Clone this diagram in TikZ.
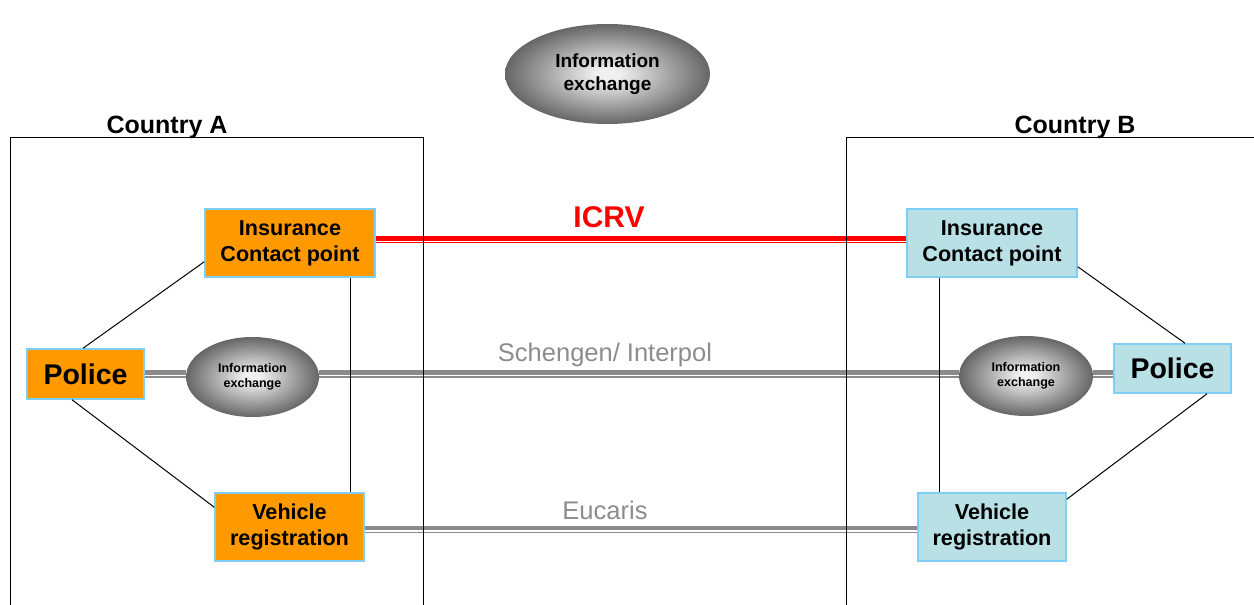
\documentclass[tikz,border=0pt]{standalone}
\usepackage{fontspec}
\setmainfont{Liberation Sans}
\usetikzlibrary{shapes.geometric}
\definecolor{boxorange}{HTML}{FF9900}
\definecolor{boxcyan}{HTML}{B9E0E5}
\definecolor{boxedge}{HTML}{7FCFF5}
\definecolor{linegray}{HTML}{8A8A8A}
\definecolor{labelgray}{HTML}{8C8C8C}
\definecolor{icrvred}{HTML}{FF0000}
\definecolor{shadein}{HTML}{F0F0F0}
\definecolor{shadeout}{HTML}{666666}
\pgfdeclareradialshading{infoshade}{\pgfpoint{0bp}{0bp}}{color(0bp)=(shadein); color(3bp)=(shadein); color(25bp)=(shadeout); color(50bp)=(shadeout)}
\tikzset{
  orgbox/.style={draw=boxedge, line width=1.5pt, fill=boxorange, align=center, inner sep=0pt},
  cyanbox/.style={draw=boxedge, line width=1.5pt, fill=boxcyan, align=center, inner sep=0pt},
  unitfont/.style={font=\fontsize{21.6}{26}\selectfont\bfseries},
  policefont/.style={font=\fontsize{28.5}{32}\selectfont\bfseries},
  infobig/.style={ellipse, shading=infoshade, align=center, inner sep=0pt, font=\fontsize{19}{23}\selectfont\bfseries},
  infosmall/.style={ellipse, shading=infoshade, align=center, inner sep=0pt, font=\fontsize{12.5}{14.5}\selectfont\bfseries},
  thinlink/.style={draw=black, line width=1pt},
  thickgray/.style={draw=linegray, line width=4.5pt},
  thingray/.style={draw=linegray, line width=1.2pt},
  thickred/.style={draw=icrvred, line width=5pt},
  thinred/.style={draw=icrvred, line width=1.2pt},
  countrybox/.style={draw=black, line width=1pt},
  countrylabel/.style={font=\fontsize{25}{28}\selectfont\bfseries},
  graylabel/.style={text=labelgray, font=\fontsize{25.5}{29}\selectfont}
}
\begin{document}
\begin{tikzpicture}[x=1pt, y=-1pt]
\useasboundingbox (0,0) rectangle (1254,605);
% level coordinates
\coordinate (icrvA) at (0,238.5);
\coordinate (icrvB) at (0,242.8);
\coordinate (schA) at (0,372.5);
\coordinate (schB) at (0,377);
\coordinate (eucA) at (0,528);
\coordinate (eucB) at (0,532.5);
\coordinate (vA) at (350,0);
\coordinate (vB) at (939,0);

% nodes
\node[infobig, minimum width=205pt, minimum height=100pt] (infoTop) at (607.5,74) {Information\\exchange};

\node[orgbox, unitfont, minimum width=170pt, minimum height=68pt] (insA) at (290,243) {Insurance\\Contact point};
\node[cyanbox, unitfont, minimum width=170pt, minimum height=68pt] (insB) at (992,243) {Insurance\\Contact point};
\node[orgbox, policefont, minimum width=117pt, minimum height=50pt] (polA) at (85.5,374) {Police};
\node[cyanbox, policefont, minimum width=117pt, minimum height=49pt] (polB) at (1172.5,368.5) {Police};
\node[orgbox, unitfont, minimum width=149pt, minimum height=68pt] (vehA) at (289.5,527) {Vehicle\\registration};
\node[cyanbox, unitfont, minimum width=148pt, minimum height=68pt] (vehB) at (992,527) {Vehicle\\registration};
\node[infosmall, minimum width=133pt, minimum height=80pt] (infoA) at (252.5,377) {Information\\exchange};
\node[infosmall, minimum width=134pt, minimum height=80pt] (infoB) at (1026,376) {Information\\exchange};

% labels
\node[countrylabel] (cA) at (167,127.5) {Country A};
\node[countrylabel] (cB) at (1075,127.5) {Country B};
\node[text=icrvred, font=\fontsize{30}{34}\selectfont\bfseries] (icrv) at (609,217) {ICRV};
\node[graylabel] (sch) at (605,354.5) {Schengen/ Interpol};
\node[graylabel] (euc) at (605,510) {Eucaris};

% double links
\draw[thickred] (insA.east |- icrvA) -- (insB.west |- icrvA);
\draw[thinred] (insA.east |- icrvB) -- (insB.west |- icrvB);

\draw[thickgray] (polA.east |- schA) -- (infoA.west |- schA);
\draw[thingray] (polA.east |- schB) -- (infoA.west |- schB);
\draw[thickgray] (infoA.east |- schA) -- (infoB.west |- schA);
\draw[thingray] (infoA.east |- schB) -- (infoB.west |- schB);
\draw[thickgray] (infoB.east |- schA) -- (polB.west |- schA);
\draw[thingray] (infoB.east |- schB) -- (polB.west |- schB);

\draw[thickgray] (vehA.east |- eucA) -- (vehB.west |- eucA);
\draw[thingray] (vehA.east |- eucB) -- (vehB.west |- eucB);

% thin links
\draw[thinlink] ([xshift=-2.5pt]polA.north) -- ([yshift=16pt]insA.south west);
\draw[thinlink] ([xshift=-13.5pt]polA.south) -- ([yshift=-15pt]vehA.north west);
\draw[thinlink] (insA.south -| vA) -- (vehA.north -| vA);
\draw[thinlink] (insB.south -| vB) -- (vehB.north -| vB);
\draw[thinlink] ([yshift=11pt]insB.south east) -- ([xshift=12.5pt]polB.north);
\draw[thinlink] ([yshift=-7pt]vehB.north east) -- ([xshift=34.5pt]polB.south);

% country frames
\draw[countrybox] (10,615) -- (10,137) -- (423,137) -- (423,615);
\draw[countrybox] (846,615) -- (846,137) -- (1264,137);
\end{tikzpicture}
\end{document}
